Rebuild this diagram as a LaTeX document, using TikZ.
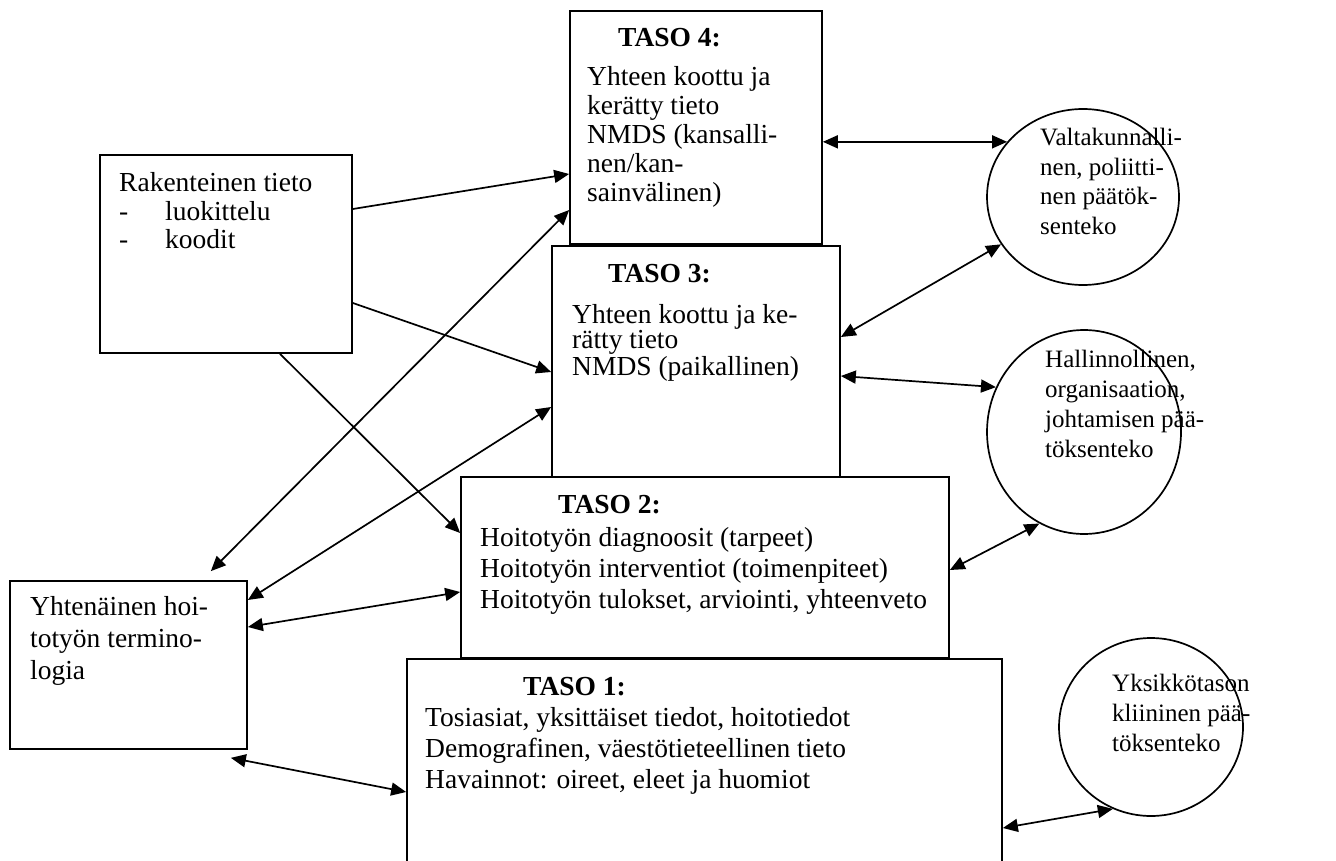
\documentclass[tikz,border=0pt]{standalone}
\usepackage{fontspec}
\setmainfont{Liberation Serif}
\usetikzlibrary{arrows.meta,shapes.geometric}
\tikzset{
  box/.style={draw, line width=1.7pt, rectangle, inner sep=0pt},
  oval/.style={draw, line width=1.7pt, ellipse, inner sep=0pt},
  txt/.style={anchor=base west, inner sep=0pt, font=\fontsize{27.5}{31}\selectfont},
  conn/.style={line width=1.7pt, -{Triangle[length=15pt,width=13pt]}},
  conn2/.style={line width=1.7pt, {Triangle[length=15pt,width=13pt]}-{Triangle[length=15pt,width=13pt]}}
}
\newcommand{\lns}[2]{{\fontsize{27.5}{#1}\selectfont\begin{tabular}[t]{@{}l@{}}#2\end{tabular}}}
\newcommand{\olns}[2]{{\fontsize{25}{#1}\selectfont\begin{tabular}[t]{@{}l@{}}#2\end{tabular}}}
\begin{document}
\begin{tikzpicture}[x=1pt,y=-1pt]
\useasboundingbox (0,0) rectangle (1336,861);
\clip (0,0) rectangle (1336,861);
\fill[white] (0,0) rectangle (1336,861);
% boxes
\node[box, minimum width=252pt, minimum height=233pt] (T4) at (696,127.5) {};
\node[box, fill=white, minimum width=288pt, minimum height=232pt] (T3) at (696,362) {};
\node[box, fill=white, minimum width=488pt, minimum height=181pt] (T2) at (705,567.5) {};
\node[box, fill=white, minimum width=595pt, minimum height=241pt] (T1) at (704.5,779.5) {};
\node[box, minimum width=252pt, minimum height=198pt] (R) at (226,254) {};
\node[box, minimum width=237pt, minimum height=168pt] (Y) at (128.5,665) {};
\node[oval, minimum width=192pt, minimum height=176pt] (E1) at (1083,197) {};
\node[oval, minimum width=194pt, minimum height=204pt] (E2) at (1084,432) {};
\node[oval, minimum width=184pt, minimum height=178pt] (E3) at (1151,727) {};
% texts
\node[txt] (t4h) at (618,47) {\textbf{TASO 4:}};
\node[txt] (t4b) at (587,86) {\lns{29}{Yhteen koottu ja\\kerätty tieto\\NMDS (kansalli-\\nen/kan-\\sainvälinen)}};
\node[txt] (t3h) at (608,282) {\textbf{TASO 3:}};
\node[txt] (t3b) at (572,323) {\lns{25}{Yhteen koottu ja ke-\\rätty tieto\\NMDS (paikallinen)}};
\node[txt] (t2h) at (558,513) {\textbf{TASO 2:}};
\node[txt] (t2b) at (480,546) {\lns{31}{Hoitotyön diagnoosit (tarpeet)\\Hoitotyön interventiot (toimenpiteet)\\Hoitotyön tulokset, arviointi, yhteenveto}};
\node[txt] (t1h) at (523,695) {\textbf{TASO 1:}};
\node[txt] (t1b) at (425,726) {\lns{31}{Tosiasiat, yksittäiset tiedot, hoitotiedot\\Demografinen, väestötieteellinen tieto\\Havainnot: oireet, eleet ja huomiot}};
\node[txt] (rt) at (119,192) {\lns{28.5}{Rakenteinen tieto\\\makebox[46pt][l]{-}luokittelu\\\makebox[46pt][l]{-}koodit}};
\node[txt] (yt) at (30,615) {\lns{32}{Yhtenäinen hoi-\\totyön termino-\\logia}};
\node[txt] (e1t) at (1040,146) {\olns{29.5}{Valtakunnalli-\\nen, poliitti-\\nen päätök-\\senteko}};
\node[txt] (e2t) at (1045,367) {\olns{30}{Hallinnollinen,\\organisaation,\\johtamisen pää-\\töksenteko}};
\node[txt] (e3t) at (1112,691) {\olns{30}{Yksikkötason\\kliininen pää-\\töksenteko}};
% connectors from R
\draw[conn] ([yshift=45pt]R.east) -- ([yshift=-46.5pt]T4.west);
\draw[conn] ([yshift=-49pt]R.east) -- ([yshift=-10pt]T3.west);
\draw[conn] ([xshift=54pt]R.south) -- ([yshift=34.5pt]T2.west);
% connectors to Y
\draw[conn2] ([yshift=-82.5pt]T4.west) -- ([shift={(-37pt,9pt)}]Y.north east);
\draw[conn2] ([yshift=-45pt]T3.west) -- ([yshift=65pt]Y.east);
\draw[conn2] ([yshift=-24.5pt]T2.west) -- ([yshift=38pt]Y.east);
\draw[conn2] ([yshift=-12.5pt]T1.west) -- ([shift={(-17pt,-8pt)}]Y.south east);
% connectors to ellipses
\draw[conn2] (T4.east |- E1.144.7) -- (E1.144.7);
\draw[conn2] (E1.210) -- ([yshift=25pt]T3.east);
\draw[conn2] ([yshift=-14pt]T3.east) -- (E2.153.4);
\draw[conn2] ([yshift=-2.5pt]T2.east) -- (E2.244.5);
\draw[conn2] ([yshift=-48.5pt]T1.east) -- (E3.245.4);
\end{tikzpicture}
\end{document}
